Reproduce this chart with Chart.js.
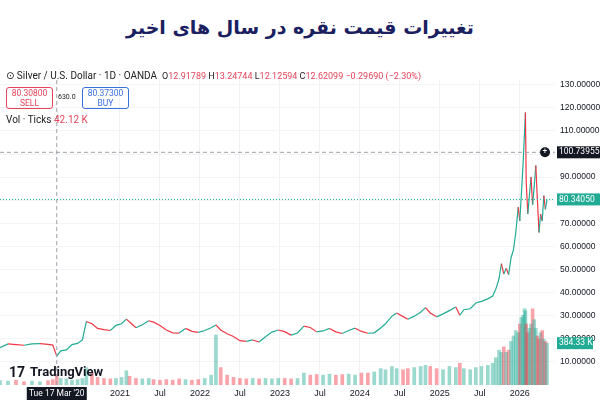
<!DOCTYPE html>
<html><head><meta charset="utf-8">
<script src="https://cdn.jsdelivr.net/npm/chart.js@4"></script>
<style>
body{margin:0;width:600px;height:400px;background:#fff;font-family:Roboto,"DejaVu Sans",sans-serif;position:relative;overflow:hidden}
#title{position:absolute;top:16px;width:100%;text-align:center;font:bold 19px "DejaVu Sans",sans-serif;color:#1a2060;direction:rtl}
#hdr{position:absolute;top:70px;left:6px;font-size:10px;color:#222;white-space:nowrap}
.r{color:#e5445a}.box{position:absolute;border-radius:3px;font-size:8.5px;text-align:center;width:45px;height:20px;line-height:10px;top:17px}
#wrap{position:absolute;left:0;top:70px;width:600px;height:330px}
</style></head><body>
<div id="title">تغییرات قیمت نقره در سال های اخیر</div>
<div id="wrap"><canvas id="c"></canvas></div>
<div id="hdr">⊙ Silver / U.S. Dollar · 1D · OANDA &nbsp;<span style="font-size:9px"><span>O</span><span class="r">12.91789</span> H<span class="r">13.24744</span> L<span class="r">12.12594</span> C<span class="r">12.62099</span> <span class="r">−0.29690 (−2.30%)</span></span>
<div class="box" style="left:0;border:1px solid #e5445a;color:#e5445a">80.30800<br>SELL</div>
<div style="position:absolute;left:52px;top:23px;font-size:7px">630.0</div>
<div class="box" style="left:76px;border:1px solid #3a6fe0;color:#3a6fe0">80.37300<br>BUY</div>
<div style="position:absolute;top:44px;left:0">Vol · Ticks <span class="r">42.12 K</span></div>
</div>
<script>
const years=[2019.5,2019.6,2019.7,2019.8,2019.9,2020.0,2020.1,2020.16,2020.21,2020.26,2020.33,2020.4,2020.47,2020.53,2020.58,2020.65,2020.72,2020.8,2020.88,2020.95,2021.02,2021.08,2021.12,2021.2,2021.28,2021.36,2021.42,2021.5,2021.58,2021.66,2021.74,2021.82,2021.9,2021.98,2022.06,2022.14,2022.2,2022.26,2022.34,2022.42,2022.5,2022.58,2022.66,2022.74,2022.82,2022.9,2022.98,2023.06,2023.14,2023.22,2023.3,2023.38,2023.46,2023.54,2023.62,2023.7,2023.78,2023.86,2023.94,2024.02,2024.1,2024.18,2024.26,2024.32,2024.4,2024.46,2024.54,2024.6,2024.68,2024.76,2024.82,2024.88,2024.96,2025.04,2025.12,2025.2,2025.25,2025.3,2025.38,2025.45,2025.52,2025.6,2025.66,2025.7,2025.74,2025.77,2025.8,2025.83,2025.86,2025.89,2025.92,2025.95,2025.98,2026.0,2026.02,2026.04,2026.06,2026.07,2026.08,2026.1,2026.12,2026.14,2026.16,2026.18,2026.2,2026.22,2026.24,2026.26,2026.28,2026.3,2026.32,2026.34];
const price=[16.2,17.8,17.5,17.2,17.8,17.9,17.6,17.3,12.5,14.8,15.2,17.5,18.0,19.5,27.5,26.5,24.5,24.0,23.6,25.8,26.5,28.5,27.3,24.8,26.1,27.8,27.2,25.8,23.8,22.6,22.5,24.5,23.2,22.8,23.6,24.8,26.0,23.8,22.2,21.0,19.2,18.9,19.5,18.6,20.9,22.9,23.8,23.1,21.6,22.5,25.5,24.9,23.0,23.4,24.5,23.0,22.3,23.6,24.6,23.2,22.4,22.6,24.7,26.5,29.8,31.2,29.6,28.5,29.8,31.5,33.5,31.2,29.5,30.8,32.2,33.8,30.2,32.6,33.0,35.5,36.2,37.3,38.5,41.5,46.0,52.5,48.0,50.5,47.8,55.0,58.5,66.0,77.0,71.0,83.0,95.0,110.0,118.0,88.0,74.0,82.0,90.0,78.0,86.0,95.0,80.0,66.0,74.0,71.0,82.0,76.0,80.34];
const volume=[20,18,22,15,18,15,20,25,50,30,28,22,25,30,80,55,35,30,28,30,35,65,40,30,28,30,25,22,25,22,28,25,22,25,30,45,230,80,45,35,30,28,30,28,30,28,30,30,28,30,55,45,48,45,50,45,48,50,45,55,55,60,75,70,85,75,70,75,80,85,90,85,75,70,85,80,100,75,70,80,85,90,100,125,160,150,175,150,160,200,225,250,240,280,310,320,350,340,280,240,260,280,350,300,260,225,210,240,250,210,200,192];
const xTicks=[[2021,'2021'],[2021.5,'Jul'],[2022,'2022'],[2022.5,'Jul'],[2023,'2023'],[2023.5,'Jul'],[2024,'2024'],[2024.5,'Jul'],[2025,'2025'],[2025.5,'Jul'],[2026,'2026']];
const G='#22ab94',R='#f23645';
const pts=years.map((x,i)=>({x,y:price[i]}));
const vol=years.map((x,i)=>({x,y:volume[i]}));
const volCol=price.map((p,i)=>i>0&&p<price[i-1]?'rgba(242,54,69,0.45)':'rgba(34,171,148,0.45)');
const overlay={id:'ov',afterDatasetsDraw(c){const {ctx,chartArea:a,scales}=c;const y=scales.y,x=scales.x;
ctx.save();
const y1=y.getPixelForValue(100.73955),y2=y.getPixelForValue(80.3405),xm=x.getPixelForValue(2020.21);
ctx.setLineDash([4,3]);ctx.strokeStyle='#9aa0a8';ctx.lineWidth=1;ctx.beginPath();ctx.moveTo(0,y1);ctx.lineTo(a.right,y1);ctx.stroke();
ctx.beginPath();ctx.moveTo(xm,a.top);ctx.lineTo(xm,a.bottom);ctx.stroke();
ctx.setLineDash([1,2]);ctx.strokeStyle=G;ctx.beginPath();ctx.moveTo(0,y2);ctx.lineTo(a.right,y2);ctx.stroke();ctx.setLineDash([]);
ctx.font='8.5px Roboto';ctx.textBaseline='middle';
ctx.fillStyle='#131722';ctx.fillRect(a.right+2,y1-6,44,12);ctx.fillStyle='#fff';ctx.fillText('100.73955',a.right+4,y1);
ctx.beginPath();ctx.arc(a.right-10,y1,5,0,7);ctx.fillStyle='#131722';ctx.fill();ctx.fillStyle='#fff';ctx.fillText('+',a.right-12.5,y1);
ctx.fillStyle=G;ctx.fillRect(a.right+2,y2-6,44,12);ctx.fillStyle='#fff';ctx.fillText('80.34050',a.right+4,y2);
const yv=c.scales.v.getPixelForValue(192);ctx.fillStyle=G;ctx.fillRect(a.right+2,yv-6,36,12);ctx.fillStyle='#fff';ctx.fillText('384.33 K',a.right+4,yv);
ctx.fillStyle='#131722';ctx.fillRect(xm-30,a.bottom+2,60,13);ctx.fillStyle='#fff';ctx.textAlign='center';ctx.fillText('Tue 17 Mar \'20',xm,a.bottom+8.5);
ctx.textAlign='left';ctx.fillStyle='#131722';ctx.font='bold 13px Roboto';ctx.fillText('TradingView',30,a.bottom-12);
ctx.font='bold 14px Roboto';ctx.fillText('17',9,a.bottom-12);
ctx.restore();}};
new Chart(document.getElementById('c'),{
data:{datasets:[
{type:'line',data:pts,yAxisID:'y',borderWidth:1.2,pointRadius:0,tension:0,segment:{borderColor:s=>s.p1.parsed.y>=s.p0.parsed.y?G:R},order:1},
{type:'bar',data:vol,yAxisID:'v',backgroundColor:volCol,barThickness:3,order:2}
]},
options:{responsive:true,maintainAspectRatio:false,animation:false,layout:{autoPadding:false,padding:{top:5,left:0,right:0,bottom:0}},
plugins:{legend:{display:false},tooltip:{enabled:false}},
scales:{
x:{type:'linear',offset:false,min:2019.5,max:2026.44,grid:{color:'#f0f1f3',drawTicks:false,offset:false},border:{display:false},
afterBuildTicks:s=>{s.ticks=xTicks.map(t=>({value:t[0]}));},
ticks:{maxRotation:0,autoSkip:false,color:'#131722',font:{size:9},padding:3,callback:v=>{const t=xTicks.find(t=>t[0]===v);return t?t[1]:'';}},
afterFit:s=>{s.height=15;}},
y:{position:'right',min:0,max:132,grid:{color:'#f3f4f6',drawTicks:false},border:{display:false},
afterBuildTicks:s=>{s.ticks=[10,20,30,40,50,60,70,80,90,100,110,120,130].map(v=>({value:v}));},
ticks:{color:'#131722',font:{size:8.5},padding:5,callback:v=>v.toFixed(5)},afterFit:s=>{s.width=45;}},
v:{display:false,min:0,max:1400}
}},plugins:[overlay]});
</script></body></html>
